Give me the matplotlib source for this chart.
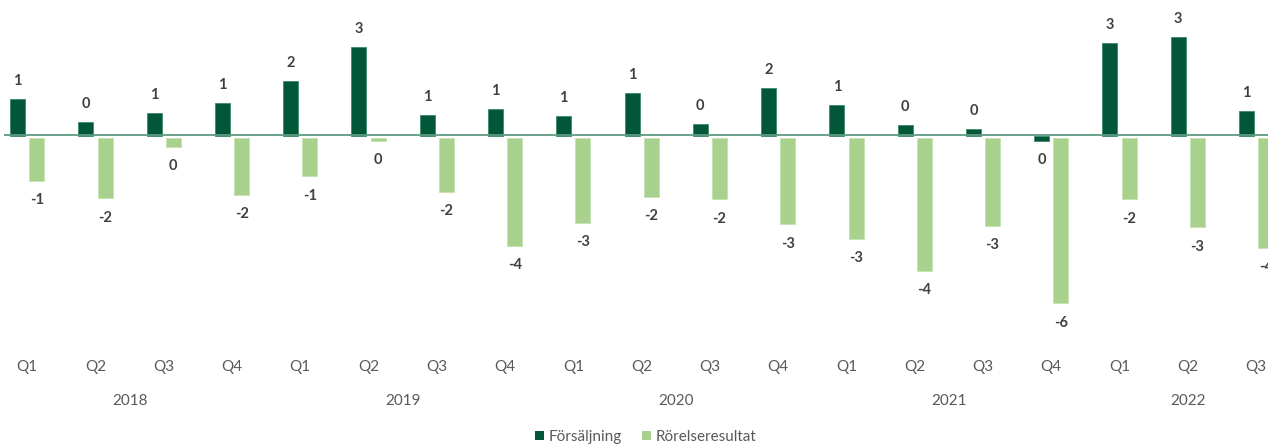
import matplotlib
matplotlib.use("Agg")
import matplotlib.pyplot as plt
from matplotlib.patches import Patch
import numpy as np

plt.rcParams['font.family'] = ['Lato', 'DejaVu Sans']

quarters = ["Q1", "Q2", "Q3", "Q4", "Q1", "Q2", "Q3", "Q4", "Q1", "Q2", "Q3", "Q4",
            "Q1", "Q2", "Q3", "Q4", "Q1", "Q2", "Q3"]
years = ["2018", "2019", "2020", "2021", "2022"]
quarters_per_year = [4, 4, 4, 4, 3]

forsaljning = [1.20, 0.43, 0.74, 1.07, 1.78, 2.92, 0.67, 0.86, 0.64, 1.41, 0.37, 1.56,
               1.01, 0.35, 0.22, -0.17, 3.03, 3.24, 0.81]
rorelseresultat = [-1.44, -2.02, -0.30, -1.91, -1.28, -0.10, -1.81, -3.61, -2.85, -1.98,
                   -2.05, -2.90, -3.39, -4.45, -2.95, -5.55, -2.06, -2.99, -3.68]

DARK = "#02573A"
LIGHT = "#A9D18E"
TXT = "#404040"
TICK = "#595959"

W, H = 1268, 445
fig = plt.figure(figsize=(W / 100, H / 100), dpi=100)

# axes occupy pixel columns 4..1268, rows 0..340 (from top)
ax = fig.add_axes([4 / W, 1 - 340 / H, (W - 4) / W, 340 / H])
ax2 = ax.twinx()

spacing = 68.27
x = np.arange(len(quarters))
x_left = -(27.2 - 4) / spacing
x_right = x_left + (W - 4) / spacing
ax.set_xlim(x_left, x_right)
ax2.set_xlim(x_left, x_right)

s1, s2 = 30.4, 29.8
ax.set_ylim(-204.5 / s1, 135.5 / s1)
ax2.set_ylim(-202 / s2, 138 / s2)

bw = 15 / spacing
off = 9.6 / spacing
ax.bar(x - off, forsaljning, width=bw, color=DARK, zorder=2, linewidth=0.6, edgecolor="#3f8a6a")
ax2.bar(x + off, rorelseresultat, width=bw, color=LIGHT, zorder=2, linewidth=0.6, edgecolor="#c5e3b2")
ax.axhline(0.03, color="#5E9C80", lw=1.3, zorder=3)

for xi, v in zip(x, forsaljning):
    lbl = f"{round(v):d}" if round(v) != 0 else "0"
    dy = 13 if v >= 0 else -14
    ax.annotate(lbl, (xi - off, v), xytext=(0, dy), textcoords="offset points",
                ha="center", va="center", fontsize=10.5, fontweight="bold", color=TXT)
for xi, v in zip(x, rorelseresultat):
    lbl = f"{round(v):d}" if round(v) != 0 else "0"
    ax2.annotate(lbl, (xi + off, v), xytext=(0, -14), textcoords="offset points",
                 ha="center", va="center", fontsize=10.5, fontweight="bold", color=TXT,
                 annotation_clip=False)

for a in (ax, ax2):
    a.axis("off")

# category labels
trans = ax.get_xaxis_transform()
for xi, q in zip(x, quarters):
    ax.text(xi, 1 - 367 / 340, q, transform=trans, ha="center", va="center",
            fontsize=11, color=TICK, clip_on=False)
start = 0
for yr, n in zip(years, quarters_per_year):
    mid = start + (n - 1) / 2
    ax.text(mid, 1 - 401 / 340, yr, transform=trans, ha="center", va="center",
            fontsize=11, color=TICK, clip_on=False)
    start += n

handles = [Patch(facecolor=DARK, label="Försäljning"), Patch(facecolor=LIGHT, label="Rörelseresultat")]
fig.legend(handles=handles, loc="center", bbox_to_anchor=(646 / W, 1 - 437 / H), ncol=2,
           frameon=False, fontsize=11, handlelength=0.6, handleheight=0.6,
           handletextpad=0.3, columnspacing=1.3, labelcolor=TICK)

fig.savefig("out.png", dpi=100)
